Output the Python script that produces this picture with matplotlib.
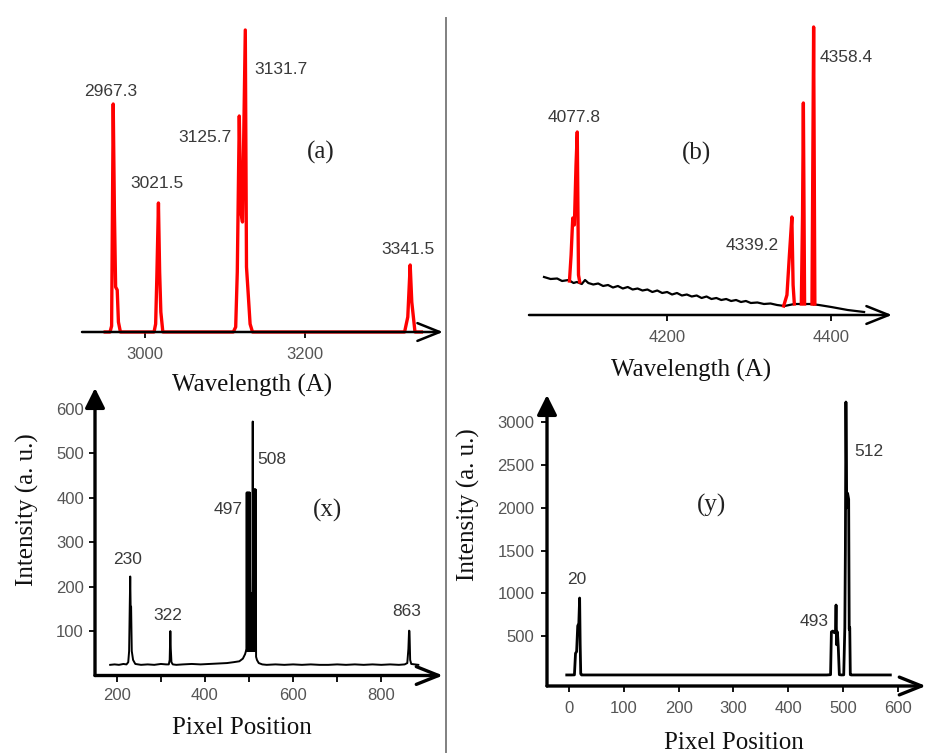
import numpy as np
import matplotlib
matplotlib.use("Agg")
import matplotlib.pyplot as plt

# ---------------- data ----------------
# (a) UV spectrum (red)
a_wavelength = [2950, 2956, 2958, 2960, 2961.5, 2963, 2965, 2966.5, 2969,
                3011, 3013, 3014.5, 3016.5, 3018, 3019.5, 3022,
                3110, 3113, 3115, 3117.5, 3119.5, 3121.5, 3125, 3126.5, 3128.5, 3131, 3134,
                3324, 3328, 3331, 3333, 3337, 3345]
a_intensity = [0, 0, 6, 228, 120, 45, 42, 10, 0,
               0, 8, 55, 129, 60, 20, 0,
               0, 5, 60, 216, 120, 110, 302, 65, 40, 8, 0,
               0, 15, 67, 30, 0, 0]
a_peak_labels = ["2967.3", "3021.5", "3125.7", "3131.7", "3341.5"]
a_ticks = [3000, 3200]

# (b) visible spectrum: black background + red lines
b_base_wavelength = [4050, 4058, 4066, 4072, 4080, 4086, 4090, 4096, 4100, 4104, 4110, 4116,
                     4122, 4128, 4134, 4140, 4146, 4152, 4158, 4164, 4170, 4176, 4182, 4188,
                     4194, 4200, 4206, 4212, 4218, 4224, 4230, 4236, 4242, 4248, 4254, 4260,
                     4266, 4272, 4278, 4284, 4290, 4296, 4302, 4310, 4318, 4326, 4334, 4343,
                     4355, 4365, 4375, 4385, 4400, 4420, 4440]
b_base_intensity = [38, 36, 36.5, 34, 35, 32, 33, 31, 35, 32, 30.5, 31.5,
                    29, 30, 27.5, 29, 26.5, 28, 25.5, 26.5, 24.5, 25.5, 23, 24.5,
                    22, 23, 20.5, 22, 19.5, 20.5, 18.5, 19.5, 17, 18.5, 16, 17,
                    15, 16, 14, 15, 13, 14, 12, 12.5, 11, 11.5, 10, 9,
                    11, 11, 11, 10, 8, 5, 3]
nan = float("nan")
b_wavelength = [4081, 4083, 4085, 4087, 4089, 4090.5, 4092, 4093.5, 4200,
                4342, 4346, 4349, 4352, 4353.5, 4355, 4360,
                4363.5, 4365, 4366, 4367.5, 4372,
                4376.5, 4377.5, 4378.5, 4380]
b_intensity = [34, 60, 97, 90, 150, 183, 40, 33, nan,
               9, 20, 60, 98, 30, 11, nan,
               11, 100, 212, 11, nan,
               11, 150, 288, 11]
b_peak_labels = ["4077.8", "4339.2", "4358.4"]
b_ticks = [4200, 4400]

# (x) pixel spectrum
x_pixel = [185, 195, 205, 215, 222, 226, 228, 229.5, 230.5, 231.5, 232.5, 234, 237, 242,
           255, 270, 285, 300, 312, 318, 320, 321.5, 322.5, 324, 327, 335, 350, 370, 390,
           410, 430, 450, 465, 478, 486, 491, 493,
           494, 494.7, 495.4, 496.1, 496.8, 497.5, 498.2, 498.9, 499.6, 500.3, 501, 501.7,
           502.4, 503.1, 503.8, 504.5, 505.2, 505.9, 506.6, 507.3, 508, 508.4, 508.8,
           509.5, 510.2, 510.9, 511.6, 512.3, 513, 513.7, 514.4, 515,
           516, 518, 522, 530, 540, 560, 580, 600,
           620, 640, 660, 680, 700, 720, 740, 760, 780, 800, 820, 840, 853, 859, 861.5, 863,
           864, 865.5, 868, 876, 884]
x_intensity = [24, 25, 24, 26, 25, 30, 55, 160, 223, 150, 155, 55, 35, 26,
               24, 25, 24, 26, 25, 25, 35, 100, 60, 30, 25, 24, 25, 26, 25,
               26, 27, 28, 30, 32, 38, 48, 55,
               60, 412, 55, 412, 55, 412, 55, 412, 55, 412, 55, 412,
               186, 55, 186, 55, 186, 55, 186, 55, 186, 572, 186,
               419, 55, 419, 55, 419, 55, 419, 55, 419,
               42, 35, 28, 25, 24, 25, 24, 25,
               24, 25, 24, 24, 25, 24, 25, 24, 25, 24, 25, 24, 25, 28, 60, 101,
               100, 35, 26, 25, 24]
x_peak_labels = ["230", "322", "497", "508", "863"]
x_major_ticks = [200, 400, 600, 800]
x_minor_ticks = [300, 500, 700]
x_yticks = [100, 200, 300, 400, 500, 600]

# (y) pixel spectrum
y_pixel = [-4, 5, 10, 12, 14, 16, 18, 19.5, 20.5, 21.5, 23, 40, 100, 200, 300, 400,
           470, 477, 478.5, 481, 484, 486, 487, 488, 489.5, 491, 493, 497,
           501, 503, 504, 505, 506.5, 508, 510, 511, 512, 513, 515, 530, 560, 586]
y_intensity = [47, 47, 48, 300, 320, 620, 650, 946, 400, 60, 47, 47, 47, 47, 47, 47,
               47, 50, 550, 560, 540, 560, 864, 400, 550, 380, 50, 47,
               48, 600, 1500, 3236, 2000, 2170, 2100, 580, 600, 50, 47, 47, 47, 47]
y_peak_labels = ["20", "493", "512"]
y_xticks = [0, 100, 200, 300, 400, 500, 600]
y_yticks = [500, 1000, 1500, 2000, 2500, 3000]

# ---------------- layout ----------------
W, H = 928, 756
fig = plt.figure(figsize=(W / 100, H / 100), dpi=100)
fig.patch.set_facecolor("white")

SERIF = "Liberation Serif"
SANS = "Liberation Sans"
TICKC = "#555555"
LABC = "#3a3a3a"


def add_ax(l, t, r, b):
    ax = fig.add_axes([l / W, 1 - b / H, (r - l) / W, (b - t) / H])
    for s in ax.spines.values():
        s.set_visible(False)
    ax.patch.set_alpha(0)
    return ax


def ftext(x, y, s, **kw):
    kw.setdefault("ha", "center")
    kw.setdefault("va", "center")
    fig.text(x / W, 1 - y / H, s, **kw)


def arrow(ax, xy, lw, style):
    ax.annotate("", xy=xy, xytext=(0, 0), xycoords="axes fraction",
                textcoords="axes fraction",
                arrowprops=dict(arrowstyle=style, lw=lw, color="k",
                                shrinkA=0, shrinkB=0, mutation_scale=20),
                annotation_clip=False, zorder=5)


def style_ticks(ax, pad_x=6, pad_y=4):
    ax.tick_params(axis="both", which="both", direction="out", color="k",
                   labelcolor=TICKC, labelsize=12)
    ax.tick_params(axis="both", which="major", length=4, width=1.3)
    ax.tick_params(axis="both", which="minor", length=4, width=1.3)
    ax.tick_params(axis="x", pad=pad_x)
    ax.tick_params(axis="y", pad=pad_y)
    for lab in ax.get_xticklabels() + ax.get_yticklabels():
        lab.set_fontfamily(SANS)


CHEV = "->,head_length=0.8,head_width=0.32"
TRI = "-|>,head_length=0.6,head_width=0.3"

# divider
fig.add_artist(plt.Line2D([446 / W, 446 / W], [1 - 18 / H, 1 - 752 / H],
                          color="#808080", lw=1.4))

# ---- panel (a)
axa = add_ax(82, 20, 443, 332)
axa.set_xlim(2921, 3372)
axa.set_ylim(0, 312)
axa.plot(a_wavelength, a_intensity, color="#ff0000", lw=2.4, zorder=3, clip_on=False)
arrow(axa, (1, 0), 1.8, CHEV)
axa.set_xticks(a_ticks)
axa.set_yticks([])
style_ticks(axa, pad_x=7)
for s, (px, py) in zip(a_peak_labels, [(111, 91), (157, 183), (205, 137), (281, 70), (408, 250)]):
    ftext(px, py, s, family=SANS, fontsize=12.5, color=LABC)
ftext(321, 152, "(a)", family=SERIF, fontsize=18, color="#222222")
ftext(252, 385, "Wavelength (A)", family=SERIF, fontsize=18, color="#111111")

# ---- panel (b)
axb = add_ax(529, 20, 892, 315)
axb.set_xlim(4031.7, 4474)
axb.set_ylim(0, 295)
axb.plot(b_base_wavelength, b_base_intensity, color="k", lw=1.6, zorder=2)
axb.plot(b_wavelength, b_intensity, color="#ff0000", lw=2.4, zorder=3)
arrow(axb, (1, 0), 1.8, CHEV)
axb.set_xticks(b_ticks)
axb.set_yticks([])
style_ticks(axb, pad_x=7)
for s, (px, py) in zip(b_peak_labels, [(574, 118), (752, 245), (846, 57)]):
    ftext(px, py, s, family=SANS, fontsize=12.5, color=LABC)
ftext(697, 153, "(b)", family=SERIF, fontsize=18, color="#222222")
ftext(691, 370, "Wavelength (A)", family=SERIF, fontsize=18, color="#111111")

# ---- panel (x)
axx = add_ax(95, 388, 443, 675.5)
axx.set_xlim(150.6, 940)
axx.set_ylim(0, 647.5)
axx.plot(x_pixel, x_intensity, color="k", lw=1.4, zorder=3)
arrow(axx, (1, 0), 2.4, CHEV)
arrow(axx, (0, 1), 2.4, TRI)
axx.set_xticks(x_major_ticks)
axx.set_xticks(x_minor_ticks, minor=True)
axx.set_yticks(x_yticks)
style_ticks(axx, pad_x=5, pad_y=4)
for s, (px, py) in zip(x_peak_labels, [(128, 560), (168, 615), (228, 509), (272, 460), (407, 612)]):
    ftext(px, py, s, family=SANS, fontsize=12.5, color=LABC)
ftext(327, 510, "(x)", family=SERIF, fontsize=18, color="#222222")
ftext(242, 728, "Pixel Position", family=SERIF, fontsize=18, color="#111111")
ftext(27, 510, "Intensity (a. u.)", family=SERIF, fontsize=18, color="#111111", rotation=90)

# ---- panel (y)
axy = add_ax(547, 395, 926, 686)
axy.set_xlim(-40, 651)
axy.set_ylim(-82, 3318)
axy.plot(y_pixel, y_intensity, color="k", lw=2.0, zorder=3)
arrow(axy, (1, 0), 2.4, CHEV)
arrow(axy, (0, 1), 2.4, TRI)
axy.set_xticks(y_xticks)
axy.set_yticks(y_yticks)
style_ticks(axy, pad_x=7, pad_y=5)
for s, (px, py) in zip(y_peak_labels, [(577, 580), (814, 622), (869, 452)]):
    ftext(px, py, s, family=SANS, fontsize=12.5, color=LABC)
ftext(712, 505, "(y)", family=SERIF, fontsize=18, color="#222222")
ftext(734, 743, "Pixel Position", family=SERIF, fontsize=18, color="#111111")
ftext(468, 505, "Intensity (a. u.)", family=SERIF, fontsize=18, color="#111111", rotation=90)

fig.savefig("out.png", dpi=100, facecolor="white")
